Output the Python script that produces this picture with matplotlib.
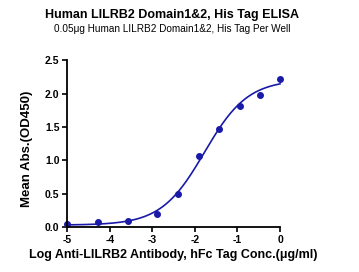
import numpy as np
import matplotlib
matplotlib.use("Agg")
import matplotlib.pyplot as plt

plt.rcParams['font.family'] = ['Liberation Sans', 'DejaVu Sans']

log_conc = [-5.0, -4.28, -3.58, -2.88, -2.39, -1.90, -1.43, -0.95, -0.48, 0.0]
od450 = [0.05, 0.07, 0.09, 0.20, 0.50, 1.06, 1.47, 1.82, 1.98, 2.22]
xticks = [-5, -4, -3, -2, -1, 0]
yticks = [0.0, 0.5, 1.0, 1.5, 2.0, 2.5]

color = '#1a1aa8'

x = np.array(log_conc)
y = np.array(od450)

def model(p, xx):
    bottom, top, logec, hill = p
    return bottom + (top - bottom) / (1 + 10 ** ((logec - xx) * hill))

# Gauss-Newton fit of a 4PL curve to the points
p = np.array([0.03, 2.2, -1.8, 1.0])
for _ in range(200):
    r = y - model(p, x)
    J = np.zeros((len(x), 4))
    for k in range(4):
        dp = np.zeros(4); dp[k] = 1e-6
        J[:, k] = (model(p + dp, x) - model(p, x)) / 1e-6
    step, *_ = np.linalg.lstsq(J, r, rcond=None)
    p = p + 0.5 * step

xs = np.linspace(-5, 0, 300)

fig = plt.figure(figsize=(3.59, 2.72), dpi=100)
ax = fig.add_axes([0.187, 0.165, 0.593, 0.614])
ax.plot(xs, model(p, xs), color=color, lw=1.2, clip_on=False)
ax.plot(x, y, 'o', color=color, ms=4, clip_on=False)

ax.set_xlim(-5, 0)
ax.set_ylim(0, 2.5)
ax.set_xticks(xticks)
ax.set_yticks(yticks)
ax.set_xticklabels([str(t) for t in xticks], fontsize=7.5, fontweight='bold')
ax.set_yticklabels([f'{t:.1f}' for t in yticks], fontsize=7.5, fontweight='bold')
for s in ['top', 'right']:
    ax.spines[s].set_visible(False)
for s in ['left', 'bottom']:
    ax.spines[s].set_linewidth(1.3)
ax.tick_params(direction='out', length=3.5, width=1.2, pad=2)

ax.set_xlabel('Log Anti-LILRB2 Antibody, hFc Tag Conc.(μg/ml)', fontsize=9, fontweight='bold', labelpad=3)
ax.set_ylabel('Mean Abs.(OD450)', fontsize=9.5, fontweight='bold', labelpad=4)
ax.yaxis.set_label_coords(-0.16, 0.47)

fig.text(0.480, 0.945, 'Human LILRB2 Domain1&2, His Tag ELISA', ha='center', va='center', fontsize=9, fontweight='bold')
fig.text(0.480, 0.895, '0.05μg Human LILRB2 Domain1&2, His Tag Per Well', ha='center', va='center', fontsize=7.2)

fig.savefig('out.png', dpi=100)
